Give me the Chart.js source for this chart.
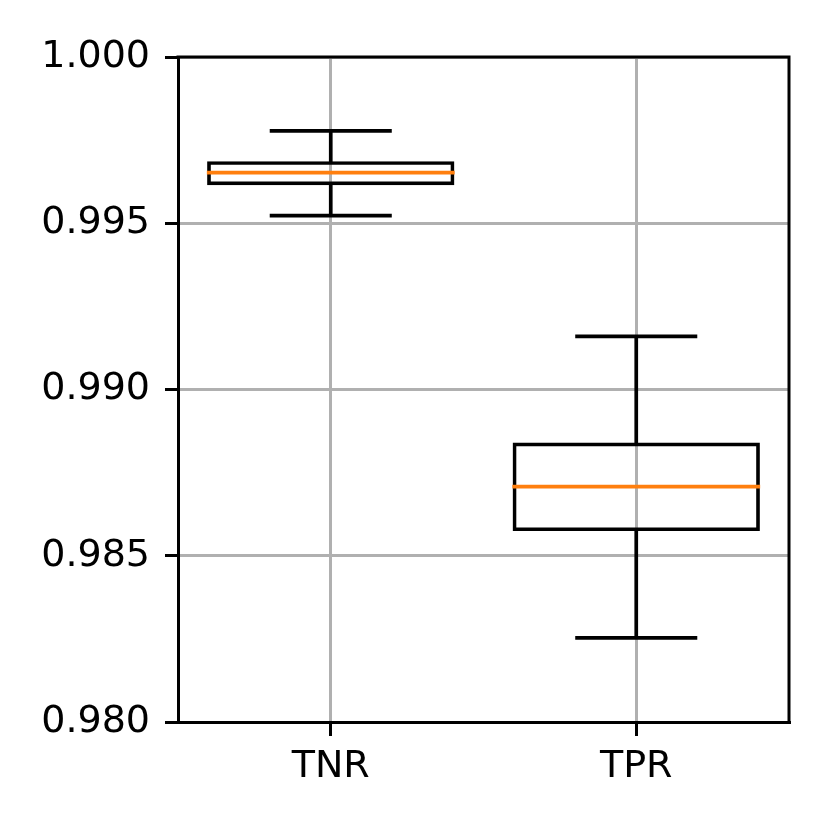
<!DOCTYPE html>
<html>
<head>
<meta charset="utf-8">
<script src="https://cdn.jsdelivr.net/npm/chart.js@4"></script>
<style>
  html, body { margin: 0; padding: 0; background: #ffffff; }
  #wrap { width: 830px; height: 830px; }
</style>
</head>
<body>
<div id="wrap"><canvas id="c" width="830" height="830"></canvas></div>
<script>
// ---- data ----
const categories = ['TNR', 'TPR'];
const whiskerLow = [0.99523, 0.98253];
const quartile1  = [0.99619, 0.98579];
const medians    = [0.99652, 0.98708];
const quartile3  = [0.99682, 0.98836];
const whiskerHigh = [0.99778, 0.99160];
const yTicks = [0.980, 0.985, 0.990, 0.995, 1.000];

const FONT = { family: "'DejaVu Sans', sans-serif", size: 38 };
const LW = 3.7;
// bar border drawn centred on the box edge: thin border + inflate
const BAR_BORDER = 0.5;
const BAR_INFLATE = 1.6;

const boxPlugin = {
  id: 'boxParts',
  afterDatasetsDraw(chart) {
    const ctx = chart.ctx;
    const y = chart.scales.y;
    const meta = chart.getDatasetMeta(0);
    ctx.save();
    meta.data.forEach((bar, i) => {
      const cx = bar.x;
      const w = bar.width;
      const capHalf = w / 4;
      ctx.lineCap = 'butt';
      ctx.strokeStyle = '#000000';
      ctx.lineWidth = LW;
      ctx.beginPath();
      ctx.moveTo(cx, y.getPixelForValue(quartile3[i]));
      ctx.lineTo(cx, y.getPixelForValue(whiskerHigh[i]));
      ctx.moveTo(cx, y.getPixelForValue(quartile1[i]));
      ctx.lineTo(cx, y.getPixelForValue(whiskerLow[i]));
      const yh = y.getPixelForValue(whiskerHigh[i]);
      const yl = y.getPixelForValue(whiskerLow[i]);
      ctx.moveTo(cx - capHalf, yh); ctx.lineTo(cx + capHalf, yh);
      ctx.moveTo(cx - capHalf, yl); ctx.lineTo(cx + capHalf, yl);
      ctx.stroke();
      const ym = y.getPixelForValue(medians[i]);
      ctx.strokeStyle = '#ff7f0e';
      ctx.beginPath();
      ctx.moveTo(cx - w / 2 - LW / 2, ym);
      ctx.lineTo(cx + w / 2 + LW / 2, ym);
      ctx.stroke();
    });
    ctx.restore();
  },
  afterDraw(chart) {
    const ctx = chart.ctx;
    const a = chart.chartArea;
    ctx.save();
    ctx.strokeStyle = '#000000';
    ctx.lineWidth = 3;
    ctx.lineCap = 'square';
    ctx.beginPath();
    ctx.moveTo(a.left, a.top);
    ctx.lineTo(a.right, a.top);
    ctx.lineTo(a.right, a.bottom);
    ctx.stroke();
    ctx.restore();
  }
};

new Chart(document.getElementById('c'), {
  type: 'bar',
  data: {
    labels: categories,
    datasets: [{
      data: categories.map((_, i) => [quartile1[i], quartile3[i]]),
      backgroundColor: 'rgba(0,0,0,0)',
      borderColor: '#000000',
      borderWidth: BAR_BORDER,
      borderSkipped: false,
      inflateAmount: BAR_INFLATE,
      barPercentage: 0.799,
      categoryPercentage: 1.0
    }]
  },
  options: {
    responsive: false,
    animation: false,
    devicePixelRatio: 1,
    layout: { padding: { left: 0, top: 57, right: 41, bottom: 0 } },
    plugins: { legend: { display: false }, tooltip: { enabled: false } },
    scales: {
      x: {
        offset: true,
        grid: { offset: false, color: '#b0b0b0', lineWidth: 3, tickColor: '#000000', tickLength: 14, drawOnChartArea: true },
        border: { color: '#000000', width: 3 },
        ticks: { color: '#000000', font: FONT, padding: 8, maxRotation: 0 },
        afterFit(s) { s.height = 108; }
      },
      y: {
        min: 0.980,
        max: 1.000,
        afterBuildTicks(s) { s.ticks = yTicks.map(v => ({ value: v })); },
        grid: { color: '#b0b0b0', lineWidth: 3, tickColor: '#000000', tickLength: 13 },
        border: { color: '#000000', width: 3 },
        ticks: { color: '#000000', font: FONT, padding: 15, callback: (v) => Number(v).toFixed(3) },
        afterFit(s) { s.width = 178; }
      }
    }
  },
  plugins: [boxPlugin]
});
</script>
</body>
</html>
